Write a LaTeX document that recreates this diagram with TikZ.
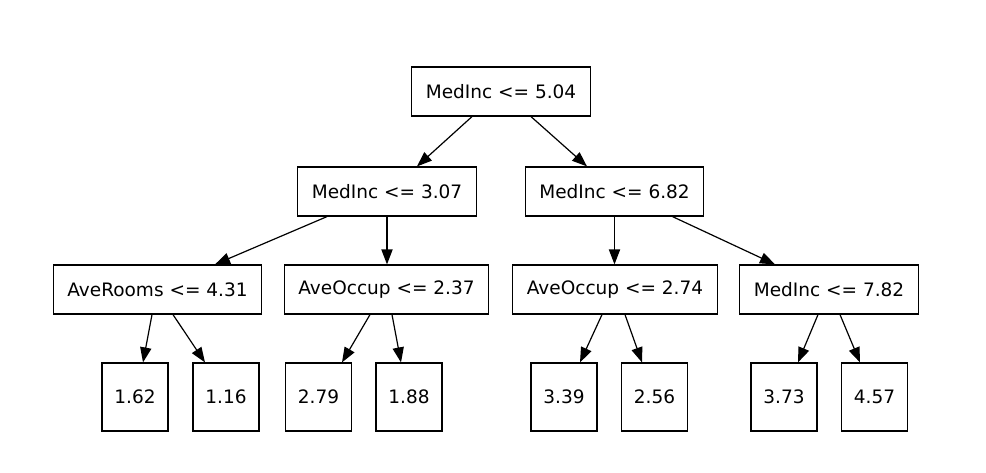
\documentclass[tikz,border=0pt]{standalone}
\usepackage{fontspec}
\setmainfont{DejaVu Sans}
\usetikzlibrary{arrows.meta}

\begin{document}
\begin{tikzpicture}[
    x=0.5pt, y=-0.5pt,
    every node/.style={draw, line width=0.6pt, font=\fontsize{9.25pt}{11pt}\selectfont},
    split/.style={rectangle, inner xsep=7pt, inner ysep=0pt, minimum height=24.5pt},
    leaf/.style={rectangle, inner sep=0pt, minimum width=33pt, minimum height=34pt},
    edge/.style={line width=0.6pt, -{Triangle[length=7.5pt, width=5.6pt]}}
]
    \useasboundingbox (0,0) rectangle (986,472);
    % Root node
    \node[split] (root) at (501,91.5) {MedInc <= 5.04};
    % Level 1
    \node[split] (m1) at (387,191.5) {MedInc <= 3.07};
    \node[split] (m2) at (614.5,191.5) {MedInc <= 6.82};
    % Level 2
    \node[split] (r1) at (157.5,289.5) {AveRooms <= 4.31};
    \node[split] (r2) at (386.5,289.5) {AveOccup <= 2.37};
    \node[split] (r3) at (615,289.5) {AveOccup <= 2.74};
    \node[split] (r4) at (829,289.5) {MedInc <= 7.82};
    % Level 3
    \node[leaf] (c1) at (135,397) {1.62};
    \node[leaf] (c2) at (226,397) {1.16};
    \node[leaf] (c3) at (318.5,397) {2.79};
    \node[leaf] (c4) at (409,397) {1.88};
    \node[leaf] (c5) at (564,397) {3.39};
    \node[leaf] (c6) at (654.5,397) {2.56};
    \node[leaf] (c7) at (784,397) {3.73};
    \node[leaf] (c8) at (874.5,397) {4.57};
    % Edges
    \draw[edge] ([xshift=-14.5pt]root.south) -- ([xshift=15pt]m1.north);
    \draw[edge] ([xshift=15pt]root.south) -- ([xshift=-13.75pt]m2.north);
    \draw[edge] ([xshift=-30pt]m1.south) -- ([xshift=28.75pt]r1.north);
    \draw[edge] (m1.south) -- (m1.south |- r2.north);
    \draw[edge] (m2.south) -- (m2.south |- r3.north);
    \draw[edge] ([xshift=29pt]m2.south) -- ([xshift=-27pt]r4.north);
    \draw[edge] ([xshift=-2.75pt]r1.south) -- ([xshift=4pt]c1.north);
    \draw[edge] ([xshift=7.75pt]r1.south) -- ([xshift=-10.5pt]c2.north);
    \draw[edge] ([xshift=-8.25pt]r2.south) -- ([xshift=11.75pt]c3.north);
    \draw[edge] ([xshift=2.75pt]r2.south) -- ([xshift=-4pt]c4.north);
    \draw[edge] ([xshift=-6.5pt]r3.south) -- ([xshift=8pt]c5.north);
    \draw[edge] ([xshift=5pt]r3.south) -- ([xshift=-6.25pt]c6.north);
    \draw[edge] ([xshift=-5.5pt]r4.south) -- ([xshift=7pt]c7.north);
    \draw[edge] ([xshift=5.5pt]r4.south) -- ([xshift=-7.25pt]c8.north);
\end{tikzpicture}
\end{document}
